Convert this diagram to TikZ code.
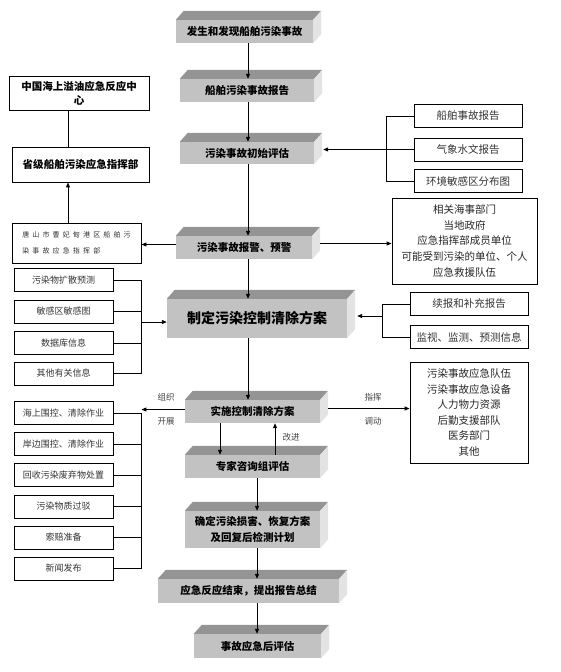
\documentclass[tikz,border=0pt]{standalone}
\usepackage{fontspec}
\setmainfont{Noto Sans CJK SC}
\newfontfamily\cjkwide[LetterSpace=45]{Noto Sans CJK SC}
\usetikzlibrary{arrows.meta}

\begin{document}
\begin{tikzpicture}[x=1pt, y=-1pt,
  flow/.style={fill=black!24, inner sep=1pt, align=center, font=\bfseries\fontsize{10.5}{16}\selectfont},
  topface/.style={fill=black!42},
  sideface/.style={fill=black!11},
  listbox/.style={draw, line width=0.9pt, minimum height=23, inner sep=1pt, text=black!80, font=\fontsize{9}{11}\selectfont},
  infobox/.style={draw, line width=0.9pt, inner sep=2pt, align=center, text=black!85, font=\fontsize{10.5}{15.6}\selectfont},
  lbl/.style={text=black!75, font=\fontsize{8.5}{10}\selectfont},
  arr/.style={line width=0.9pt, -{Triangle[length=5pt,width=4pt]}},
  ln/.style={line width=0.9pt}]
\useasboundingbox (0,0) rectangle (560,672);

\node[flow, minimum width=137, minimum height=23] (b1) at (244.5,31.5) {发生和发现船舶污染事故};
\node[flow, minimum width=134, minimum height=23] (b2) at (247,90.5) {船舶污染事故报告};
\node[flow, minimum width=134, minimum height=22] (b3) at (247,153) {污染事故初始评估};
\node[flow, minimum width=136, minimum height=23] (b4) at (244,247.5) {污染事故报警、预警};
\node[flow, minimum width=180, minimum height=39, font=\bfseries\fontsize{14}{16}\selectfont] (b5) at (257,318.5) {制定污染控制清除方案};
\node[flow, minimum width=135, minimum height=23] (b6) at (252.5,411.5) {实施控制清除方案};
\node[flow, minimum width=135, minimum height=23] (b7) at (252.5,466.5) {专家咨询组评估};
\node[flow, minimum width=135, minimum height=37] (b8) at (252.5,529.5) {确定污染损害、恢复方案\\及回复后检测计划};
\node[flow, minimum width=181, minimum height=24] (b9) at (248.5,591) {应急反应结束，提出报告总结};
\node[flow, minimum width=127, minimum height=24] (b10) at (257.5,646) {事故应急后评估};

\foreach \n in {b1,b2,b3,b4,b5,b6,b7,b8,b9,b10} {
  \fill[topface] (\n.north west) -- ([xshift=8pt,yshift=9pt]\n.north west) -- ([xshift=8pt,yshift=9pt]\n.north east) -- (\n.north east) -- cycle;
  \fill[sideface] (\n.north east) -- ([xshift=8pt,yshift=9pt]\n.north east) -- ([xshift=8pt,yshift=9pt]\n.south east) -- (\n.south east) -- cycle;
}

\node[draw, line width=0.9pt, minimum width=140, minimum height=34, align=center, font=\bfseries\fontsize{10.5}{14}\selectfont] (zx) at (79,93) {中国海上溢油应急反应中\\心};
\node[draw, line width=0.9pt, minimum width=137, minimum height=35, font=\bfseries\fontsize{10.5}{14}\selectfont] (sj) at (80.5,164.5) {省级船舶污染应急指挥部};
\node[draw, line width=0.9pt, minimum width=129, minimum height=40, align=left, text=black!80, font=\cjkwide\fontsize{7}{16}\selectfont] (ts) at (76.5,243) {唐山市曹妃甸港区船舶污\\染事故应急指挥部};

\node[listbox, minimum width=108, font=\fontsize{10.5}{12}\selectfont] (rl1) at (468,116) {船舶事故报告};
\node[listbox, minimum width=108, font=\fontsize{10.5}{12}\selectfont] (rl2) at (468,149.5) {气象水文报告};
\node[listbox, minimum width=108, font=\fontsize{10.5}{12}\selectfont] (rl3) at (468,181) {环境敏感区分布图};

\node[infobox, minimum width=145, minimum height=86] (r4) at (464.5,241) {相关海事部门\\当地政府\\应急指挥部成员单位\\可能受到污染的单位、个人\\应急救援队伍};

\node[listbox, minimum width=118, font=\fontsize{10.5}{12}\selectfont] (rk1) at (469,304) {续报和补充报告};
\node[listbox, minimum width=118, font=\fontsize{10.5}{12}\selectfont] (rk2) at (469,337) {监视、监测、预测信息};

\node[infobox, minimum width=118, minimum height=101] (r6) at (469,412.5) {污染事故应急队伍\\污染事故应急设备\\人力物力资源\\后勤支援部队\\医务部门\\其他};

\node[listbox, minimum width=99] (l1) at (63.5,280) {污染物扩散预测};
\node[listbox, minimum width=99] (l2) at (63.5,311.5) {敏感区敏感图};
\node[listbox, minimum width=99] (l3) at (63.5,343) {数据库信息};
\node[listbox, minimum width=99] (l4) at (63.5,373.5) {其他有关信息};

\node[listbox, minimum width=99] (m1) at (63.5,413) {海上围控、清除作业};
\node[listbox, minimum width=99] (m2) at (63.5,444) {岸边围控、清除作业};
\node[listbox, minimum width=99] (m3) at (63.5,475) {回收污染废弃物处置};
\node[listbox, minimum width=99] (m4) at (63.5,506.5) {污染物质过驳};
\node[listbox, minimum width=99] (m5) at (63.5,537.5) {索赔准备};
\node[listbox, minimum width=99] (m6) at (63.5,568.5) {新闻发布};

\node[lbl] (zz) at (166,397) {组织};
\node[lbl] (kz) at (166,421) {开展};
\node[lbl] (zh) at (373,397) {指挥};
\node[lbl] (dd) at (373,421) {调动};
\node[lbl] (gj) at (291,437) {改进};

\coordinate (c1) at (248,0);
\coordinate (c2) at (257,0);
\draw[arr] (b1.south -| c1) -- (b2.north -| c1);
\draw[arr] (b2.south -| c1) -- (b3.north -| c1);
\draw[arr] (b3.south -| c1) -- (b4.north -| c1);
\draw[arr] (b4.south -| c1) -- (b5.north -| c1);
\draw[arr] (b5.south -| c1) -- (b6.north -| c1);
\draw[arr] ([xshift=-32.5pt]b6.south) -- ([xshift=-32.5pt]b7.north);
\draw[arr] ([xshift=22.5pt]b7.north) -- ([xshift=22.5pt]b6.south);
\draw[arr] (b7.south -| c2) -- (b8.north -| c2);
\draw[arr] (b8.south -| c2) -- (b9.north -| c2);
\draw[arr] (b9.south -| c2) -- (b10.north -| c2);

\draw[ln] ([xshift=-11pt]zx.south) -- ([xshift=-11pt]zx.south |- sj.north);
\coordinate (t1) at ([xshift=-8.5pt]ts.north);
\draw[arr] (t1) -- (t1 |- sj.south);
\coordinate (w4) at ([yshift=3pt]b4.west);
\draw[arr] (w4) -- (w4 -| ts.east);

\coordinate (e3) at ([xshift=9pt]b3.east);
\draw[ln] (rl1.west) -- ++(-27,0) |- (rl3.west);
\draw[arr] (rl2.west) -- (rl2.west -| e3);

\coordinate (e4) at ([xshift=8pt,yshift=4pt]b4.east);
\draw[arr] (e4) -- (e4 -| r4.west);

\coordinate (e5) at ([xshift=10pt]b5.east);
\coordinate (j3) at (383,316);
\draw[ln] (rk1.west) -- ++(-27,0) |- (rk2.west);
\draw[arr] (j3) -- (j3 -| e5);

\draw[ln] (l1.east) -- ++(28,0) |- (l4.east);
\draw[ln] (l2.east) -- ++(28,0);
\draw[ln] (l3.east) -- ++(28,0);
\coordinate (j2) at (141,322);
\draw[arr] (j2) -- (j2 -| b5.west);

\coordinate (k) at ([xshift=28pt]m1.east);
\draw[ln] (m1.east) -- ++(28,0) |- (m6.east);
\foreach \m in {m2,m3,m4,m5} \draw[ln] (\m.east) -- ++(28,0);
\coordinate (w6) at ([yshift=2pt]b6.west);
\draw[arr] (w6) -- (w6 -| k);

\coordinate (e6) at ([xshift=8pt,yshift=3pt]b6.east);
\draw[arr] (e6) -- (e6 -| r6.west);
\end{tikzpicture}
\end{document}
